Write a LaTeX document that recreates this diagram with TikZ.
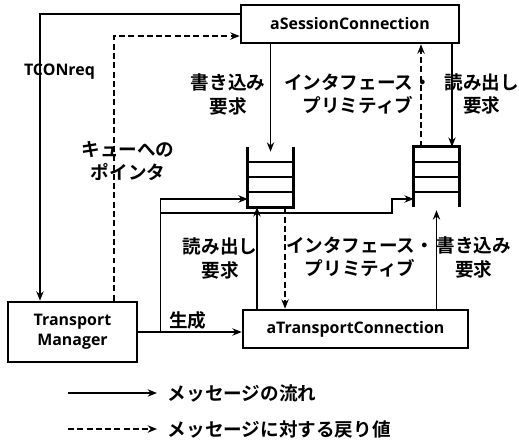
\documentclass[tikz,border=0pt]{standalone}
\usepackage{fontspec}
\setmainfont{Open Sans}
\newfontfamily\jpfont{Noto Sans CJK JP}[BoldFont={* Bold}]
\usepackage{tikz}
\usetikzlibrary{calc,arrows.meta}

\begin{document}
\begin{tikzpicture}[
  box/.style={draw,line width=2pt,inner sep=0pt,align=center,
    font=\bfseries\fontsize{12}{15}\selectfont},
  lbl/.style={align=center,inner sep=1pt,
    font=\jpfont\bfseries\fontsize{14}{18}\selectfont},
  latlbl/.style={inner sep=1pt,font=\bfseries\fontsize{12}{15}\selectfont},
  queue/.style={inner sep=0pt,minimum width=1.191cm,minimum height=1.587cm},
  wall/.style={line width=2pt},
  msg/.style={->,line width=1.2pt},
  ret/.style={->,line width=1.2pt,dash pattern=on 4.5pt off 2.5pt},
  >={Stealth[length=7pt,width=5.5pt]}
]
\useasboundingbox (0,0) rectangle (13.732,-11.800);
\node[box,minimum width=5.768cm,minimum height=1.005cm] (sess) at (9.260,-0.635)
  {aSessionConnection};
\node[box,minimum width=3.413cm,minimum height=1.587cm] (tm) at (1.918,-8.784)
  {Transport\\Manager};
\node[box,minimum width=5.953cm,minimum height=1.005cm] (tc) at (9.406,-8.705)
  {aTransportConnection};
% queues
\node[queue] (wq) at (7.157,-4.683) {};
\node[queue] (rq) at (11.549,-4.683) {};
\draw[wall] (wq.north west) -- (wq.south west) -- (wq.south east) -- (wq.north east);
\draw[wall] (rq.south west) -- (rq.north west) -- (rq.north east) -- (rq.south east);
\foreach \f in {0.25,0.5,0.75} {
  \draw[wall] ($(wq.north west)!\f!(wq.south west)$) -- ($(wq.north east)!\f!(wq.south east)$);
  \draw[wall] ($(rq.north west)!\f!(rq.south west)$) -- ($(rq.north east)!\f!(rq.south east)$);
}
% labels
\node[latlbl] (tconreq) at (1.574,-1.905) {TCONreq};
\node[lbl] (wreq1) at (6.033,-2.487) {書き込み\\要求};
\node[lbl] (ifp1) at (9.473,-2.487) {インタフェース・\\プリミティブ};
\node[lbl] (rreq1) at (12.75,-2.487) {読み出し\\要求};
\node[lbl] (ptr) at (3.387,-4.26) {キューへの\\ポインタ};
\node[lbl] (rreq2) at (5.821,-6.827) {読み出し\\要求};
\node[lbl] (ifp2) at (9.526,-6.80) {インタフェース・\\プリミティブ};
\node[lbl] (wreq2) at (12.54,-6.80) {書き込み\\要求};
% connectors
\draw[msg] ([yshift=0.265cm]sess.west) -| ([xshift=-0.860cm]tm.north);
\draw[ret] ([xshift=1.098cm]tm.north) |- ([yshift=-0.318cm]sess.west);
\draw[msg] (sess.south -| wq.north) -- ([yshift=-0.13cm]wq.north);
\draw[ret] ([xshift=-0.41cm]rq.north) -- ([xshift=-0.41cm]rq.north |- sess.south);
\draw[msg] ([xshift=0.41cm]rq.north |- sess.south) -- ([xshift=0.41cm]rq.north);
\draw[msg] ([xshift=-0.357cm]wq.south |- tc.north) -- ([xshift=-0.357cm]wq.south);
\draw[ret] ([xshift=0.384cm]wq.south) -- ([xshift=0.384cm]wq.south |- tc.north);
\draw[msg] (rq.south |- tc.north) -- ([yshift=-0.08cm]rq.south);
\draw[msg] (tm.east) -- node[lbl,above,pos=0.48] (gen) {生成} (tm.east -| tc.west);
\coordinate (fork) at ([xshift=0.582cm]tm.east);
\coordinate (jog) at (10.372,-5.636);
\draw[msg] (fork) |- ([yshift=-0.582cm]wq.west);
\draw[msg] (fork |- jog) -- (jog) |- ([yshift=-0.582cm]rq.west);
% legend
\coordinate (l1s) at (1.799,-10.398);
\coordinate (l2s) at (1.799,-11.351);
\node[lbl,anchor=west,inner xsep=8pt] (l1t) at (4.154,-10.398) {メッセージの流れ};
\node[lbl,anchor=west,inner xsep=8pt] (l2t) at (4.154,-11.351) {メッセージに対する戻り値};
\draw[msg] (l1s) -- (l1t.west);
\draw[ret] (l2s) -- (l2t.west);
\end{tikzpicture}
\end{document}
